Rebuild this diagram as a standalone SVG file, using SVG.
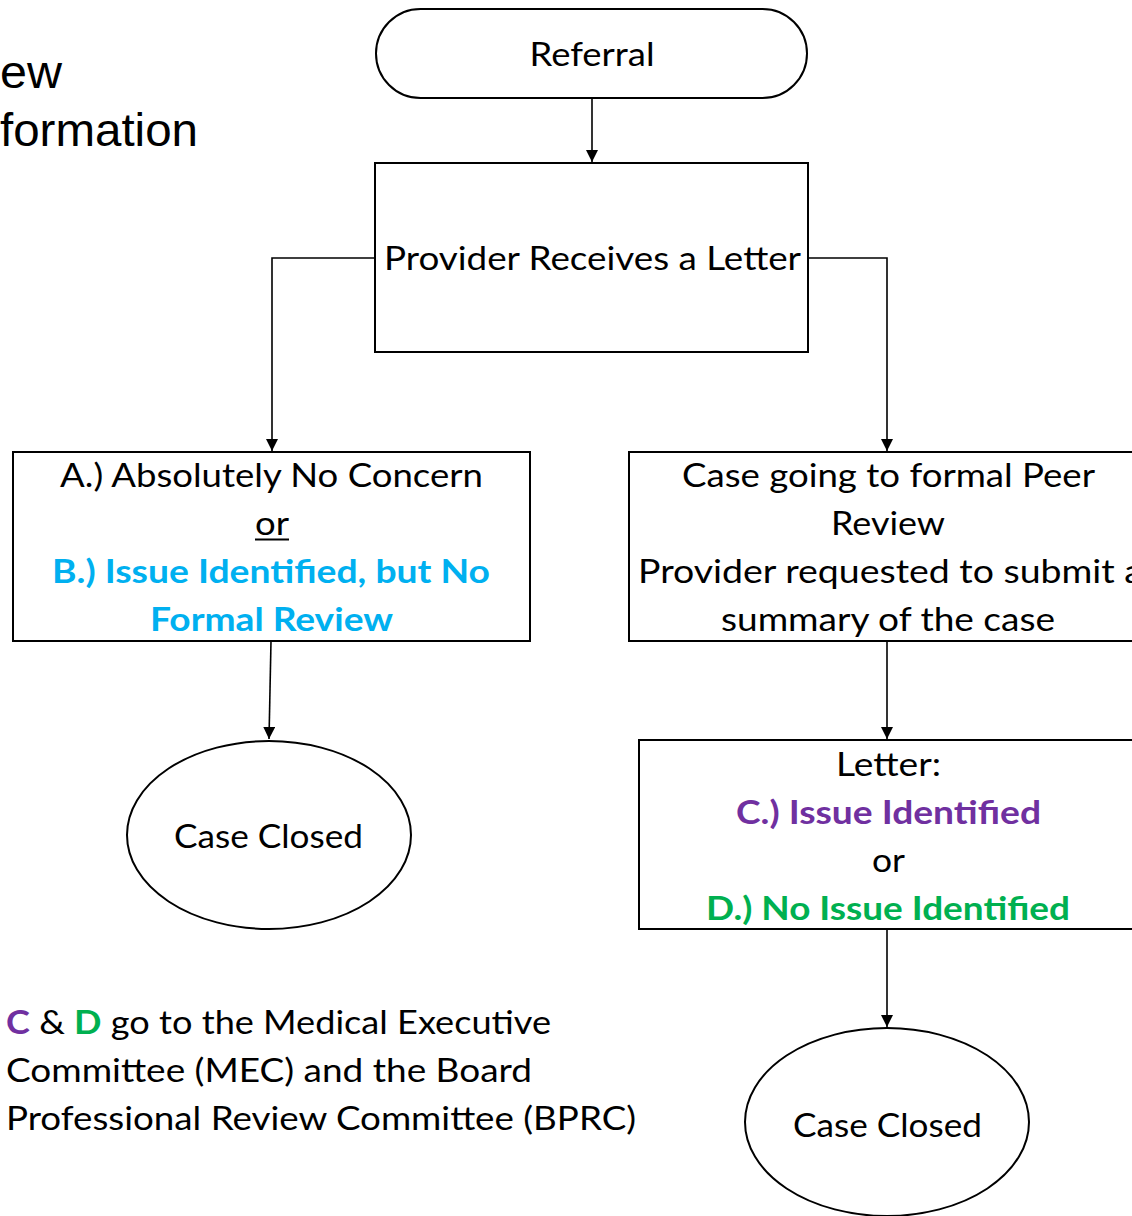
<svg xmlns="http://www.w3.org/2000/svg" width="1132" height="1216" viewBox="0 0 1132 1216">
<style>
.t{font-family:Lato,"Open Sans","Liberation Sans",sans-serif;font-size:33px;fill:#000;text-anchor:middle}
.l{text-anchor:start}
.b{font-weight:bold}
.blue{fill:#00B0F0}
.pur{fill:#7030A0}
.grn{fill:#00B050}
.shape{fill:#fff;stroke:#000;stroke-width:2}
.con{fill:none;stroke:#000;stroke-width:1.6}
.bg{font-family:"Liberation Sans",Arial,sans-serif;font-size:47px;fill:#000}
</style>
<defs>
<marker id="ah" viewBox="0 0 12 12" refX="12" refY="6" markerWidth="12" markerHeight="12" markerUnits="userSpaceOnUse" orient="auto">
<path d="M0,0 L12,6 L0,12 Z" fill="#000"/>
</marker>
</defs>
<rect width="1132" height="1216" fill="#fff"/>
<g id="bg-text">
<text class="bg" x="0" y="88" textLength="62" lengthAdjust="spacingAndGlyphs">ew</text>
<text class="bg" x="0" y="146" textLength="198" lengthAdjust="spacingAndGlyphs">formation</text>
</g>
<g id="connectors">
<path class="con" d="M592,98 L592,162" marker-end="url(#ah)"/>
<path class="con" d="M375,258 L272,258 L272,451" marker-end="url(#ah)"/>
<path class="con" d="M808,258 L887,258 L887,451" marker-end="url(#ah)"/>
<path class="con" d="M271,641 L269,739" marker-end="url(#ah)"/>
<path class="con" d="M887,641 L887,739" marker-end="url(#ah)"/>
<path class="con" d="M887,929 L887,1027" marker-end="url(#ah)"/>
</g>
<g id="referral">
<rect class="shape" x="376" y="9" width="431" height="89" rx="44.5"/>
<text class="t" x="592" y="66" textLength="125" lengthAdjust="spacingAndGlyphs">Referral</text>
</g>
<g id="provider-letter">
<rect class="shape" x="375" y="163" width="433" height="189"/>
<text class="t" x="592.5" y="270" textLength="417" lengthAdjust="spacingAndGlyphs">Provider Receives a Letter</text>
</g>
<g id="box-ab">
<rect class="shape" x="13" y="452" width="517" height="189"/>
<text class="t" x="271.5" y="487" textLength="423" lengthAdjust="spacingAndGlyphs">A.) Absolutely No Concern</text>
<text class="t" x="272" y="535" textLength="34" lengthAdjust="spacingAndGlyphs">or</text>
<line x1="255" y1="539.5" x2="289" y2="539.5" stroke="#000" stroke-width="2"/>
<text class="t b blue" x="271" y="583" textLength="438" lengthAdjust="spacingAndGlyphs">B.) Issue Identified, but No</text>
<text class="t b blue" x="271.5" y="631" textLength="243" lengthAdjust="spacingAndGlyphs">Formal Review</text>
</g>
<g id="box-peer">
<rect class="shape" x="629" y="452" width="520" height="189"/>
<text class="t" x="888.5" y="487" textLength="413" lengthAdjust="spacingAndGlyphs">Case going to formal Peer</text>
<text class="t" x="888" y="535" textLength="114" lengthAdjust="spacingAndGlyphs">Review</text>
<text class="t l" x="638" y="583" textLength="505" lengthAdjust="spacingAndGlyphs">Provider requested to submit a</text>
<text class="t" x="888" y="631" textLength="334" lengthAdjust="spacingAndGlyphs">summary of the case</text>
</g>
<g id="box-cd">
<rect class="shape" x="639" y="740" width="510" height="189"/>
<text class="t" x="888.5" y="776" textLength="105" lengthAdjust="spacingAndGlyphs">Letter:</text>
<text class="t b pur" x="888.5" y="824" textLength="305" lengthAdjust="spacingAndGlyphs">C.) Issue Identified</text>
<text class="t" x="888.5" y="872" textLength="33" lengthAdjust="spacingAndGlyphs">or</text>
<text class="t b grn" x="888" y="920" textLength="364" lengthAdjust="spacingAndGlyphs">D.) No Issue Identified</text>
</g>
<g id="closed-left">
<ellipse class="shape" cx="269" cy="835" rx="142" ry="94"/>
<text class="t" x="268.5" y="848" textLength="189" lengthAdjust="spacingAndGlyphs">Case Closed</text>
</g>
<g id="closed-right">
<ellipse class="shape" cx="887" cy="1122" rx="142" ry="94"/>
<text class="t" x="887.5" y="1137" textLength="189" lengthAdjust="spacingAndGlyphs">Case Closed</text>
</g>
<g id="note">
<text class="t l" x="6" y="1034" textLength="545" lengthAdjust="spacingAndGlyphs"><tspan class="b pur">C</tspan> &amp; <tspan class="b grn">D</tspan> go to the Medical Executive</text>
<text class="t l" x="6" y="1082" textLength="526" lengthAdjust="spacingAndGlyphs">Committee (MEC) and the Board</text>
<text class="t l" x="6" y="1130" textLength="630" lengthAdjust="spacingAndGlyphs">Professional Review Committee (BPRC)</text>
</g>
</svg>
